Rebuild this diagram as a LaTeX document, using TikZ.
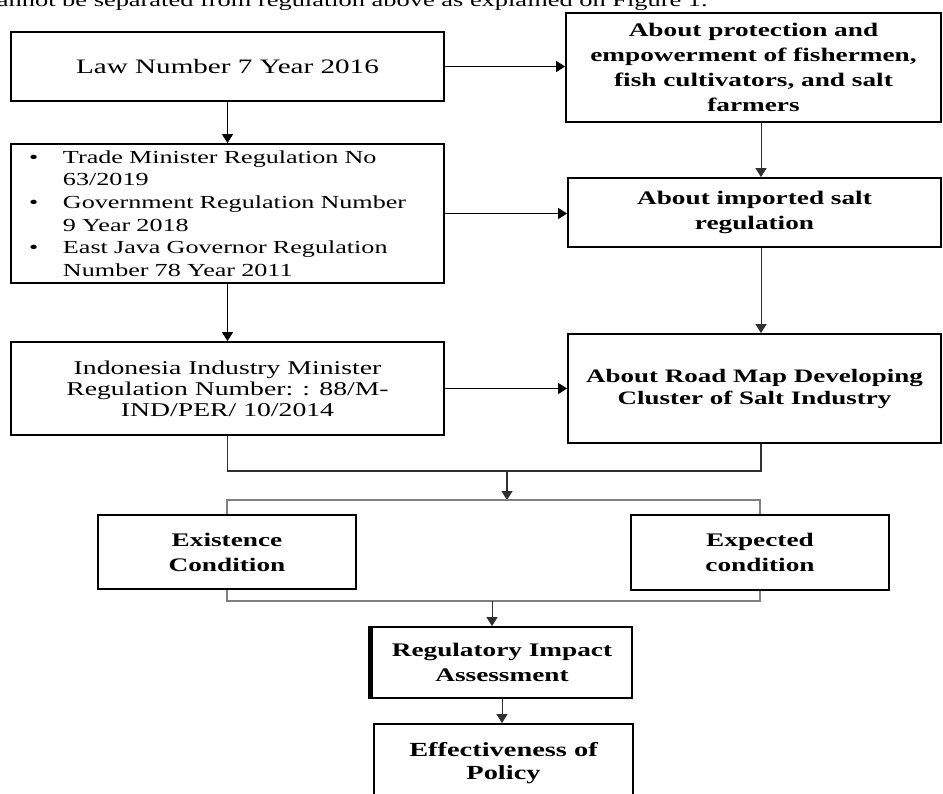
\documentclass[tikz,border=0pt]{standalone}
\usepackage{fontspec}
\setmainfont{Liberation Serif}[FakeStretch=1.42]
\usetikzlibrary{arrows.meta}
\definecolor{brk}{HTML}{808080}
\definecolor{cn}{HTML}{303030}
\begin{document}
\begin{tikzpicture}[x=1pt,y=-1pt,
  box/.style={draw=black, line width=1.8pt, inner sep=0pt, align=center},
  regtxt/.style={font=\fontsize{20.5}{22}\selectfont},
  bldtxt/.style={font=\fontsize{19.2}{25}\selectfont\bfseries},
  arr/.style={draw=black, line width=1.6pt, -{Triangle[width=11pt,length=9pt]}},
  thinarr/.style={draw=cn, line width=1pt, -{Triangle[width=11pt,length=9pt]}},
  joinline/.style={draw=cn, line width=1.4pt},
  bracket/.style={draw=brk, line width=1.8pt}]
\useasboundingbox (0,0) rectangle (943,794);

\node[anchor=base west, font=\fontsize{18.6}{22}\selectfont, inner sep=0pt] (cap) at (-15,6.5)
  {cannot be separated from regulation above as explained on Figure 1.};

\node[box, regtxt, minimum width=433, minimum height=69] (law) at (227.5,66.5)
  {Law Number 7 Year 2016};
\node[box, bldtxt, minimum width=375, minimum height=109] (prot) at (753.5,67.5)
  {About protection and\\empowerment of fishermen,\\fish cultivators, and salt\\farmers};
\node[box, align=left, text width=397, inner xsep=18, minimum width=433, minimum height=139,
  font=\fontsize{18.4}{22.6}\selectfont] (bul) at (227.5,213.5)
  {\makebox[34pt][l]{\textbullet}Trade Minister Regulation No\\
   \hspace*{34pt}63/2019\\
   \makebox[34pt][l]{\textbullet}Government Regulation Number\\
   \hspace*{34pt}9 Year 2018\\
   \makebox[34pt][l]{\textbullet}East Java Governor Regulation\\
   \hspace*{34pt}Number 78 Year 2011};
\node[box, bldtxt, minimum width=373, minimum height=69] (imp) at (754.5,212.5)
  {About imported salt\\regulation};
\node[box, font=\fontsize{19.5}{21}\selectfont, minimum width=433, minimum height=93] (indo) at (227.5,388.5)
  {Indonesia Industry Minister\\Regulation Number: : 88/M-\\IND/PER/ 10/2014};
\node[box, font=\fontsize{19}{22}\selectfont\bfseries, minimum width=373, minimum height=109] (road) at (754.5,388.5)
  {About Road Map Developing\\Cluster of Salt Industry};
\node[box, bldtxt, minimum width=258, minimum height=74] (exist) at (227,552)
  {Existence\\Condition};
\node[box, bldtxt, minimum width=258, minimum height=75] (expc) at (760,552.5)
  {Expected\\condition};
\node[box, bldtxt, minimum width=260, minimum height=71] (reg) at (502,662.5)
  {Regulatory Impact\\Assessment};
\node[box, font=\fontsize{20}{23}\selectfont\bfseries, minimum width=259, minimum height=79] (eff) at (503.5,763.5)
  {Effectiveness of\\Policy};
\draw[line width=2.2pt] ([xshift=-1.6pt]reg.north west) -- ([xshift=-1.6pt]reg.south west);

\coordinate (rx) at (761,0);
\coordinate (jn) at (507,471);
\coordinate (tb) at (507,500);
\coordinate (bb) at (492,601);

\draw[arr] (law.east) -- (law.east -| prot.west);
\draw[arr] (law.south) -- (bul.north);
\draw[thinarr] (prot.south -| rx) -- (imp.north -| rx);
\draw[arr] (bul.east) -- (bul.east -| imp.west);
\draw[arr] (bul.south) -- (indo.north);
\draw[thinarr] (imp.south -| rx) -- (road.north -| rx);
\draw[arr] (indo.east) -- (indo.east -| road.west);
\draw[joinline] (indo.south) |- (jn) -| (road.south -| rx);
\draw[thinarr, line width=1.3pt] (jn) -- (tb);
\draw[bracket] (exist.north) |- (tb) -| (expc.north);
\draw[bracket] (exist.south) |- (bb) -| (expc.south);
\draw[thinarr] (bb) -- (bb |- reg.north);
\draw[thinarr] (reg.south) -- (reg.south |- eff.north);
\end{tikzpicture}
\end{document}
